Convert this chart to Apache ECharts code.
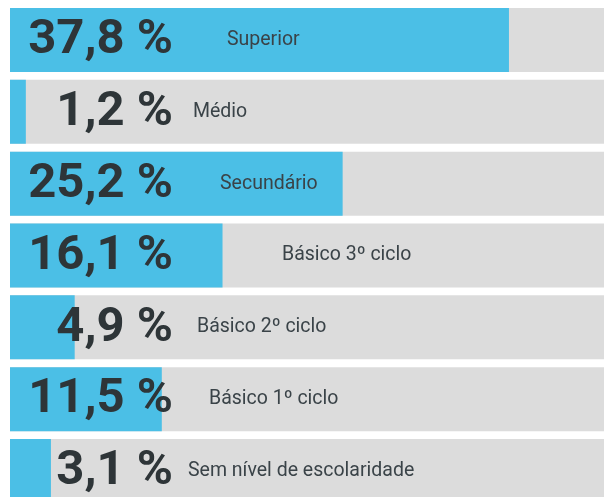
<!DOCTYPE html>
<html>
<head>
<meta charset="utf-8">
<script src="https://cdn.jsdelivr.net/npm/echarts@6/dist/echarts.min.js"></script>
<style>
  html, body { margin: 0; padding: 0; background: #fff; }
  #chart { width: 609px; height: 497px; }
</style>
</head>
<body>
<div id="chart"></div>
<script>
const categories = ['Superior', 'Médio', 'Secundário', 'Básico 3º ciclo', 'Básico 2º ciclo', 'Básico 1º ciclo', 'Sem nível de escolaridade'];
const values = [37.8, 1.2, 25.2, 16.1, 4.9, 11.5, 3.1];

// where each category name sits, counted from the left of the bar
const nameOffsets = [217, 183, 210, 272, 187, 199, 178];

const chart = echarts.init(document.getElementById('chart'));

const fmt = (v) => v.toFixed(1).replace('.', ',') + ' %';

const option = {
    animation: false,
    grid: {
        left: 10,
        right: 5,
        top: 4,
        height: 503,
        outerBoundsMode: 'none' // last row runs past the bottom edge
    },
    xAxis: {
        type: 'value',
        min: 0,
        max: 45,
        show: false
    },
    yAxis: {
        type: 'category',
        data: categories,
        inverse: true,
        show: false
    },
    series: [
        {
            name: 'valor',
            type: 'bar',
            barWidth: 64,
            data: values,
            showBackground: true,
            backgroundStyle: { color: '#dcdcdc' },
            itemStyle: { color: '#4bbfe6' },
            label: {
                show: true,
                position: [163, '50%'],
                offset: [0, 1],
                align: 'right',
                verticalAlign: 'middle',
                fontFamily: 'Roboto',
                fontWeight: 'bold',
                fontSize: 49,
                color: '#2e3538',
                formatter: (p) => fmt(p.value)
            },
            z: 2
        },
        {
            name: 'nome',
            type: 'bar',
            barWidth: 64,
            barGap: '-100%',
            data: values.map((v, i) => ({
                value: v,
                label: { position: [nameOffsets[i], '50%'] }
            })),
            itemStyle: { color: 'transparent' },
            label: {
                show: true,
                align: 'left',
                verticalAlign: 'middle',
                fontFamily: 'Roboto',
                fontSize: 19.5,
                color: '#3a4348',
                formatter: '{b}'
            },
            silent: true,
            z: 3
        }
    ]
};

option && chart.setOption(option);
</script>
</body>
</html>
